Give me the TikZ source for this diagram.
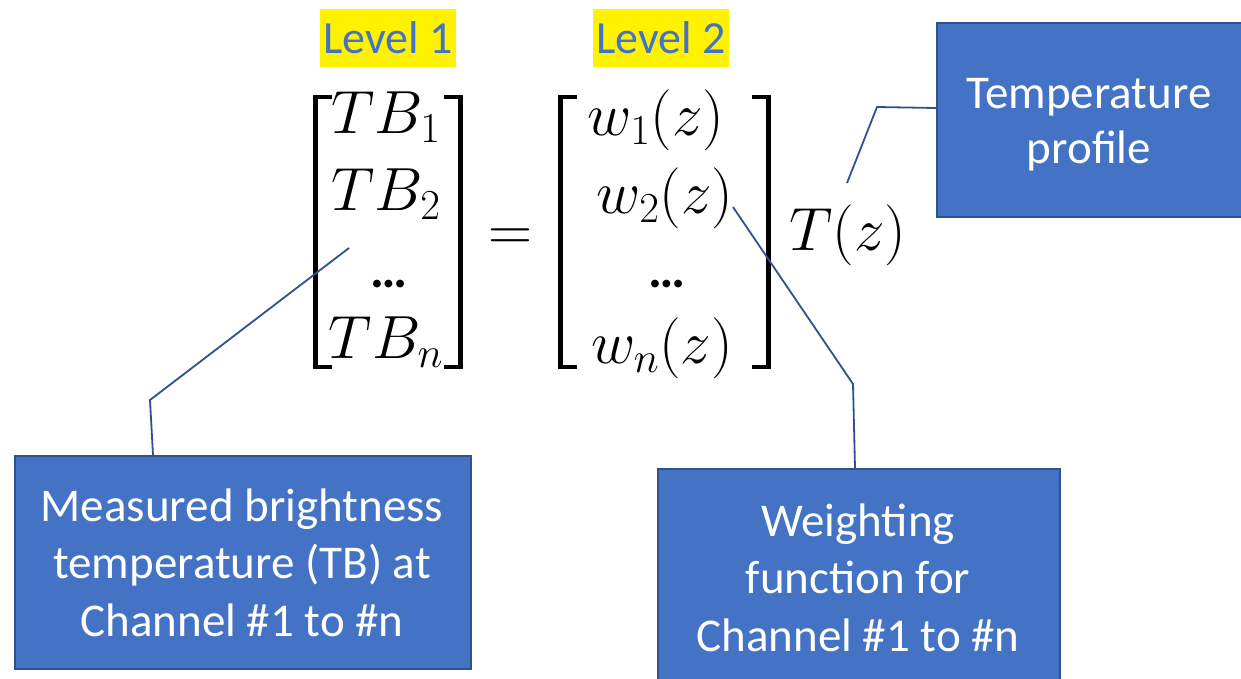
\RequirePackage{fix-cm}
\documentclass[tikz,border=0pt]{standalone}
\usepackage[no-math]{fontspec}
\setmainfont{Carlito}
\begin{document}
\begin{tikzpicture}[x=1pt,y=-1pt,
  bluebox/.style={draw=boxedge,line width=2pt,fill=boxfill,inner sep=0pt},
  boxtext/.style={text=white,align=center,anchor=base,inner sep=0pt,font=\fontsize{47}{57.5}\selectfont},
  lead/.style={draw=boxedge,line width=1.8pt},
  brk/.style={line width=4.5pt,line cap=butt,line join=miter},
  lvl/.style={fill=yellow,text=lvltext,inner sep=0pt,minimum width=136pt,minimum height=58pt,font=\fontsize{46}{50}\selectfont},
  ent/.style={anchor=base,inner sep=0pt,font=\fontsize{61}{61}\selectfont},
  dotrow/.style={anchor=base,inner sep=0pt,font=\fontsize{52}{52}\selectfont\bfseries}]
\definecolor{boxfill}{HTML}{4472C4}
\definecolor{boxedge}{HTML}{2F528F}
\definecolor{lvltext}{HTML}{4472C4}
\useasboundingbox (0,0) rectangle (1241,678);
\fill[white] (0,0) rectangle (1241,678);

% level labels
\node[lvl] (lv1) at (388,38) {Level 1};
\node[lvl] (lv2) at (661,38) {Level 2};

% brightness temperature column
\node[ent] (tb1) at (386,133) {$TB_1$};
\node[ent] (tb2) at (386,210) {$TB_2$};
\node[dotrow] (tbd) at (389,287) {…};
\node[ent] (tbn) at (386,358) {$TB_n$};
\draw[brk] (332,97) -- (315.5,97) -- (315.5,367) -- (332,367);
\draw[brk] (444,97) -- (460.5,97) -- (460.5,367) -- (444,367);

% equals sign
\node[ent] (eq) at (510,250) {$=$};

% weighting function column
\node[ent] (w1) at (656,135) {$w_1(z)$};
\node[ent] (w2) at (665,213) {$w_2(z)$};
\node[dotrow] (wd) at (667,287) {…};
\node[ent] (wn) at (662,363) {$w_n(z)$};
\draw[brk] (577,97) -- (560.5,97) -- (560.5,367) -- (577,367);
\draw[brk] (752,97) -- (768.5,97) -- (768.5,367) -- (752,367);

% temperature profile
\node[ent] (tz) at (848,250) {$T(z)$};

% callout boxes (text nodes are anchored at the baseline of their last line)
\node[bluebox,minimum width=456pt,minimum height=213pt,anchor=north west] (mb) at (14,455) {};
\node[boxtext] (mbt) at (242,636) {Measured brightness\\temperature (TB) at\\Channel \#1 to \#n};
\node[bluebox,minimum width=402pt,minimum height=240pt,anchor=north west] (wb) at (657,468) {};
\node[boxtext] (wbt) at (858,651) {Weighting\\function for\\Channel \#1 to \#n};
\node[bluebox,minimum width=312pt,minimum height=194pt,anchor=north west] (tb) at (936,22) {};
\node[boxtext,font=\fontsize{47}{55}\selectfont] (tbt) at (1089,163) {Temperature\\profile};

% leader lines
\coordinate (a0) at (349,248);
\coordinate (a1) at (150,400);
\draw[lead] (a0) -- (a1) -- (mb.north -| 153,0);
\coordinate (b0) at (733,207);
\coordinate (b1) at (853,384);
\draw[lead] (b0) -- (b1) -- (wb.north -| 855,0);
\coordinate (c0) at (847,183);
\coordinate (c1) at (877,107);
\draw[lead] (c0) -- (c1) -- (tb.west |- 0,108);
\end{tikzpicture}
\end{document}
